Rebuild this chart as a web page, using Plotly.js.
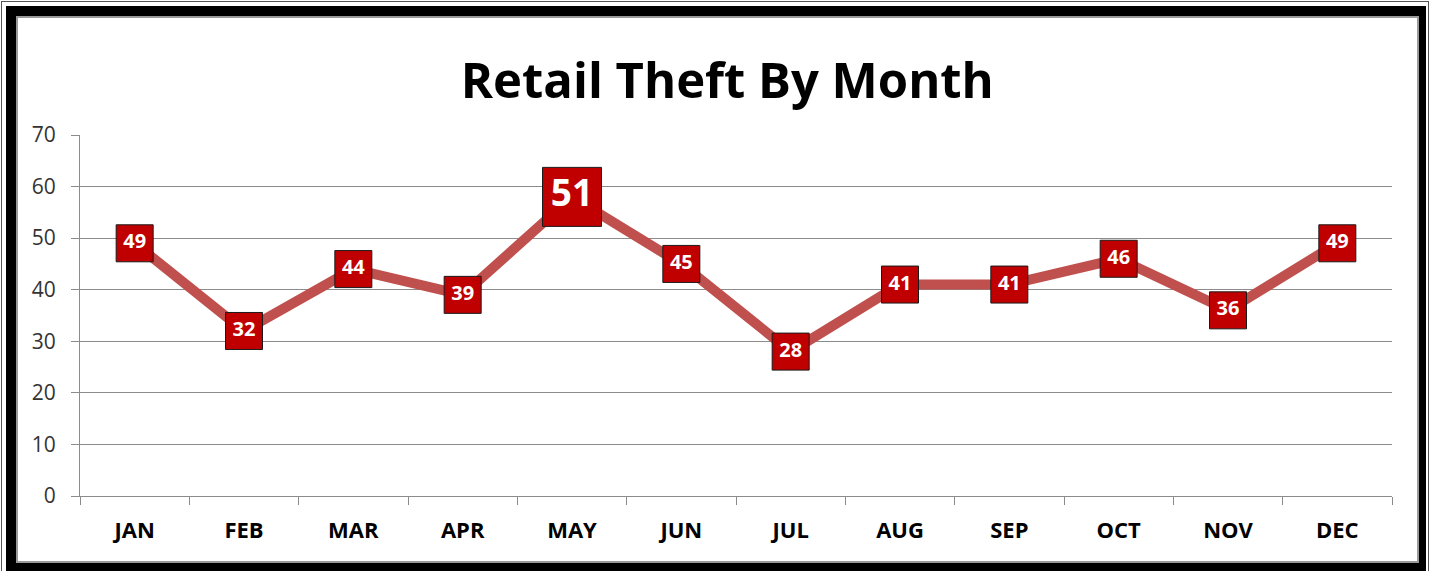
<!DOCTYPE html>
<html>
<head>
<meta charset="utf-8">
<script src="https://cdn.plot.ly/plotly-3.0.1.min.js"></script>
<style>
  html, body { margin:0; padding:0; background:#fff; width:1432px; height:571px; overflow:hidden; }
  .abs { position:absolute; box-sizing:border-box; }
</style>
</head>
<body>
<div class="abs" style="left:1px;top:1px;width:1428px;height:620px;border:1px solid #555;"></div>
<div class="abs" style="left:6px;top:6px;width:1420px;height:620px;background:#000;"></div>
<div class="abs" style="left:16px;top:16px;width:1403px;height:547px;background:#fff;border:2px solid #9a9a9a;"></div>
<div id="chart" class="abs" style="left:18px;top:18px;width:1399px;height:543px;"></div>
<script>
// Data
const months = ['JAN','FEB','MAR','APR','MAY','JUN','JUL','AUG','SEP','OCT','NOV','DEC'];
const plottedValues = [49, 32, 44, 39, 58, 45, 28, 41, 41, 46, 36, 49];
const labelText = ['49','32','44','39','51','45','28','41','41','46','36','49'];

const maxVal = Math.max(...plottedValues);
const markerSizes = plottedValues.map(v => v === maxVal ? 59 : 37);
const textSizes = plottedValues.map(v => v === maxVal ? 37 : 20);

const FONT = '"Open Sans", "Liberation Sans", sans-serif';

const trace = {
  type: 'scatter',
  mode: 'lines+markers+text',
  x: months,
  y: plottedValues,
  text: labelText,
  textposition: 'middle center',
  textfont: { family: FONT, size: textSizes, color: '#ffffff', weight: 'bold' },
  line: { color: '#c0504d', width: 10 },
  marker: { symbol: 'square', size: markerSizes, color: '#c00000', opacity: 1, line: { color: '#1a1a1a', width: 1 } },
  opacity: 1,
  hoverinfo: 'x+y',
  cliponaxis: false
};

const layout = {
  width: 1399,
  height: 543,
  margin: { l: 62, r: 25, t: 117, b: 65 },
  paper_bgcolor: '#ffffff',
  plot_bgcolor: '#ffffff',
  showlegend: false,
  title: {
    text: '<b>Retail Theft By Month</b>',
    font: { family: FONT, size: 49, color: '#000000' },
    xref: 'container', x: 0.507, xanchor: 'center',
    yref: 'container', y: 0.885, yanchor: 'middle'
  },
  xaxis: {
    type: 'category',
    range: [-0.5, 11.5],
    showgrid: false,
    showline: true, linecolor: '#8c8c8c', linewidth: 1,
    ticks: 'outside', tickson: 'boundaries', ticklen: 8, tickcolor: '#8c8c8c', tickwidth: 1,
    tickfont: { family: FONT, size: 22, color: '#000000', weight: 'bold' },
    ticklabelstandoff: 15,
    zeroline: false
  },
  yaxis: {
    range: [0, 70],
    dtick: 10,
    showgrid: true, gridcolor: '#8c8c8c', gridwidth: 1,
    showline: true, linecolor: '#8c8c8c', linewidth: 1,
    ticks: 'outside', ticklen: 8, tickcolor: '#8c8c8c', tickwidth: 1,
    tickfont: { family: FONT, size: 21, color: '#333333' },
    ticklabelstandoff: 11,
    zeroline: false
  }
};

Plotly.newPlot('chart', [trace], layout, { displayModeBar: false, staticPlot: true });
</script>
</body>
</html>
